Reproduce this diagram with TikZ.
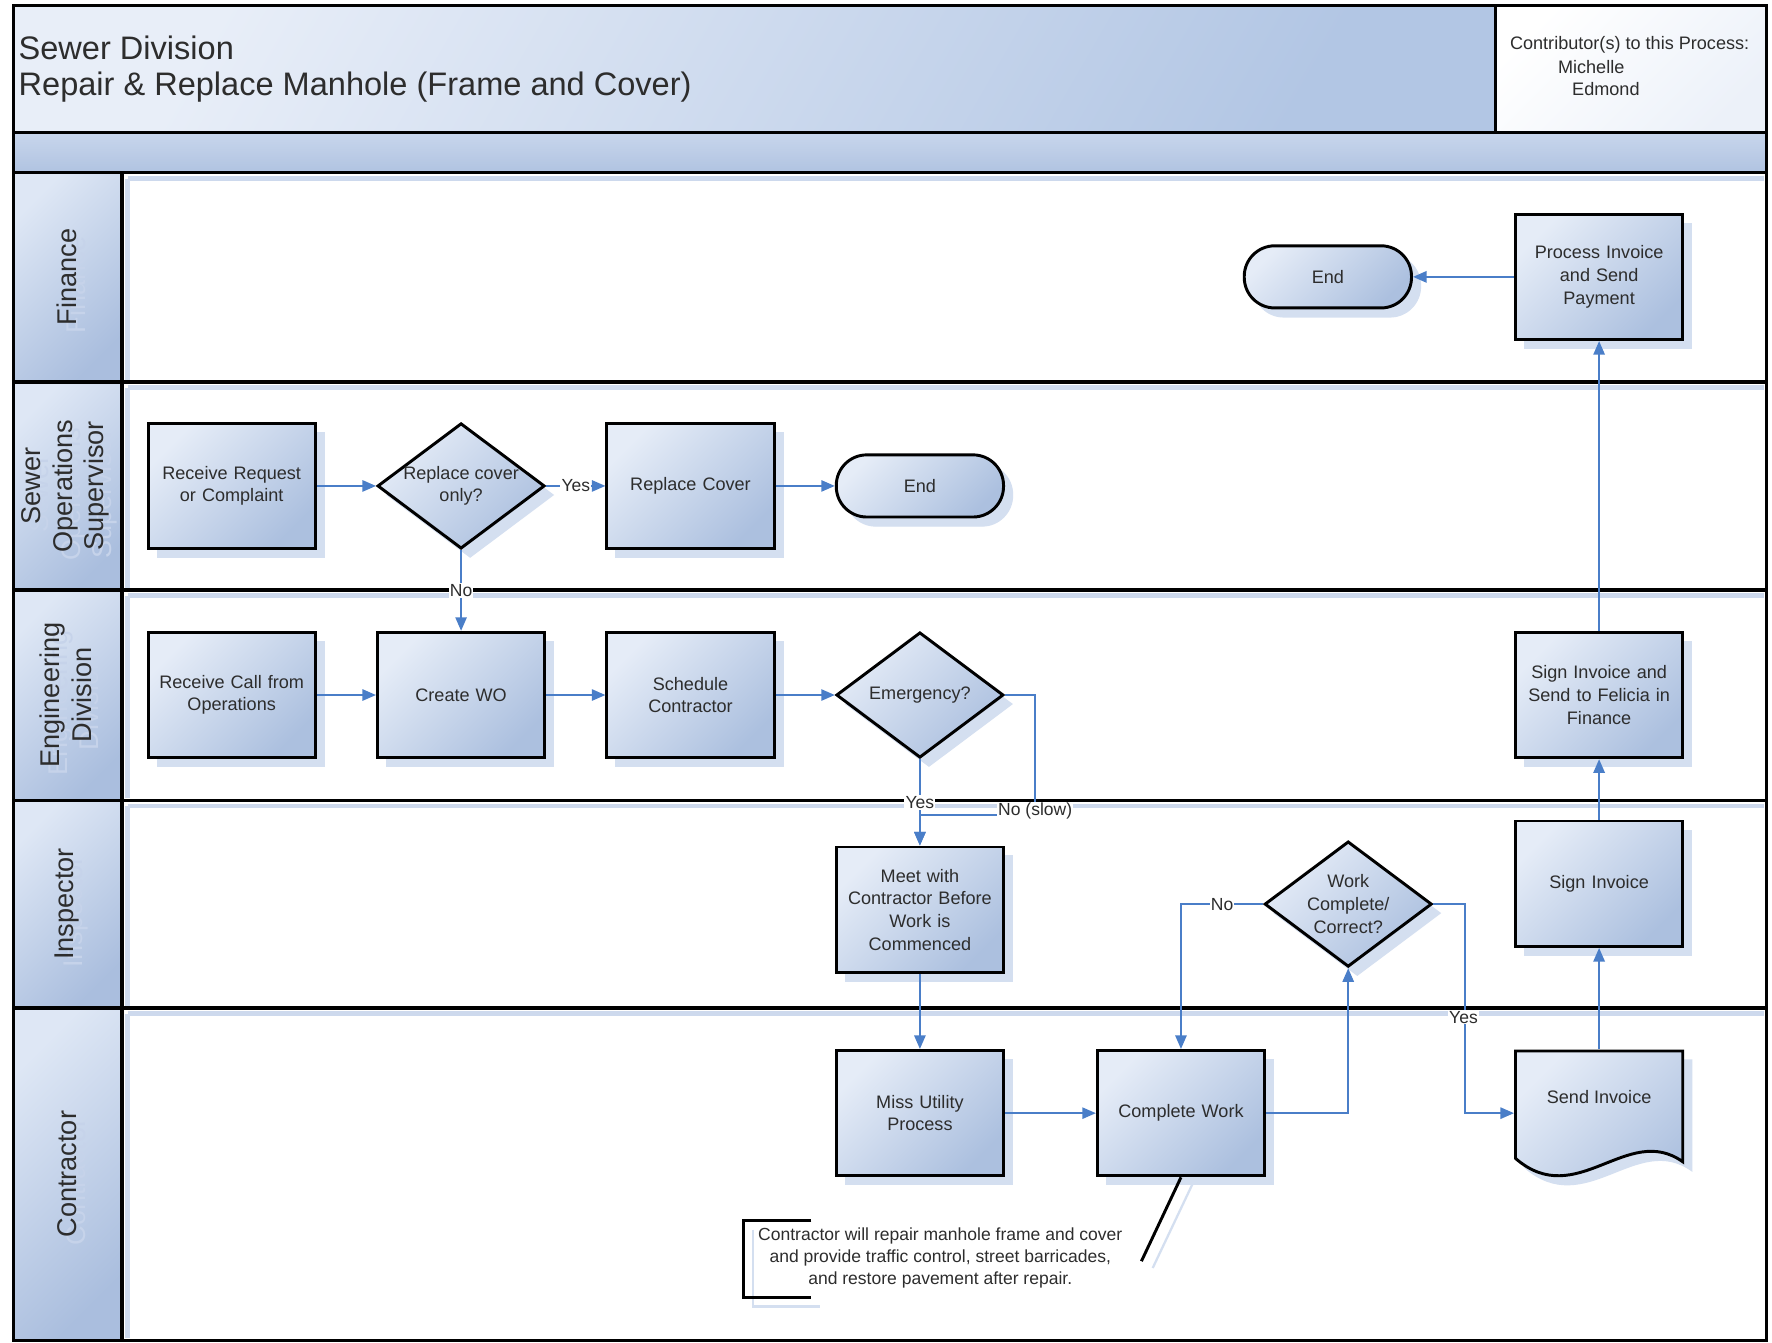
\documentclass[tikz,border=0pt]{standalone}
\usepackage{fontspec}
\setmainfont{Liberation Sans}
\usetikzlibrary{arrows.meta,shapes.geometric}
\definecolor{conn}{RGB}{74,126,200}
\definecolor{shad}{RGB}{212,223,240}
\definecolor{boxlight}{RGB}{229,236,247}
\definecolor{boxdark}{RGB}{172,192,223}
\definecolor{txt}{RGB}{45,45,45}
\definecolor{titlel}{RGB}{232,238,248}
\definecolor{titled}{RGB}{178,198,228}
\definecolor{bartop}{RGB}{200,214,236}
\definecolor{barbot}{RGB}{176,195,225}
\definecolor{hdl}{RGB}{222,231,245}
\definecolor{hdd}{RGB}{170,190,222}
\definecolor{contr}{RGB}{236,241,249}
\definecolor{laneshadc}{RGB}{205,217,237}
\definecolor{ghost}{RGB}{198,211,234}
\begin{document}
\begin{tikzpicture}[x=1pt,y=-1pt,
  shadowed/.style={preaction={fill=shad, draw=shad, line width=1pt, transform canvas={xshift=8pt,yshift=-8pt}}},
  grad/.style={top color=boxlight, bottom color=boxdark, shading angle=45},
  box/.style={draw=black, line width=2.6pt, grad, shadowed, minimum width=148pt, minimum height=111pt,
    inner sep=2pt, text width=144pt, align=center, font=\fontsize{16}{20}\selectfont, text=txt},
  dbox/.style={shape=diamond, draw=black, line width=2.6pt, grad, shadowed, minimum width=148pt,
    minimum height=111pt, inner sep=0pt},
  dtext/.style={align=center, font=\fontsize{16}{20}\selectfont, text=txt, inner sep=0pt},
  endbox/.style={draw=black, line width=2.6pt, grad, shadowed, rounded corners=27pt, minimum width=148pt,
    minimum height=55pt, font=\fontsize{16}{20}\selectfont, text=txt},
  frame/.style={line width=2.8pt, black},
  laneshad/.style={line width=4pt, laneshadc},
  lanelbl/.style={rotate=90, align=center, font=\fontsize{24}{28}\selectfont, text=txt},
  lanelblshad/.style={rotate=90, align=center, font=\fontsize{24}{28}\selectfont, text=ghost},
  conn/.style={draw=conn, line width=1.6pt, -{Triangle[length=12pt,width=10pt]}},
  lbl/.style={fill=white, inner sep=1pt, font=\fontsize{15.5}{18}\selectfont, text=txt},
  notetext/.style={align=center, font=\fontsize{15.5}{19.5}\selectfont, text=txt}
]
\useasboundingbox (0,0) rectangle (1568,1188);
\fill[white] (0,0) rectangle (1568,1188);

% title area
\shade[top color=titlel, bottom color=titled, shading angle=60] (12,5) rectangle (1323,117);
\shade[top color=white, bottom color=contr, shading angle=45] (1323,5) rectangle (1563,117);
\shade[top color=bartop, bottom color=barbot] (12,117) rectangle (1563,153);

% lanes
\foreach \t/\b in {153/338,338/522,522/708,708/892,892/1186} {
  \shade[top color=hdl, bottom color=hdd, shading angle=45] (12,\t) rectangle (108,\b);
  \draw[laneshad] (113,\t+5) -- (1561,\t+5);
  \draw[laneshad] (113,\t+5) -- (113,\b-2);
}

% frame lines
\draw[frame] (12,5) rectangle (1563,1186);
\draw[frame] (1323,5) -- (1323,117);
\draw[frame] (12,117) -- (1563,117);
\foreach \y in {153,338,522,708,892} \draw[frame] (12,\y) -- (1563,\y);
\draw[frame] (108,153) -- (108,1186);

% titles
\node[anchor=west, font=\fontsize{28.8}{35}\selectfont, text=txt] (t1) at (13,42) {Sewer Division};
\node[anchor=west, font=\fontsize{28.8}{35}\selectfont, text=txt] (t2) at (13,77) {Repair \& Replace Manhole (Frame and Cover)};
\node[font=\fontsize{16}{19}\selectfont, text=txt] (c1) at (1442,40) {Contributor(s) to this Process:};
\node[font=\fontsize{16}{19}\selectfont, text=txt] (c2) at (1408,59) {Michelle};
\node[font=\fontsize{16}{19}\selectfont, text=txt] (c3) at (1421,79) {Edmond};

% lane labels
\node[lanelblshad] (l1s) at (67,252) {Finance};
\node[lanelblshad] (l2s) at (65,437) {Sewer\\Operations\\Supervisor};
\node[lanelblshad] (l3s) at (65,622) {Engineering\\Division};
\node[lanelblshad] (l4s) at (67,807) {Inspector};
\node[lanelblshad] (l5s) at (67,1046) {Contractor};
\node[lanelbl] (l1) at (59,245) {Finance};
\node[lanelbl] (l2) at (58,430) {Sewer\\Operations\\Supervisor};
\node[lanelbl] (l3) at (58,615) {Engineering\\Division};
\node[lanelbl] (l4) at (59,800) {Inspector};
\node[lanelbl] (l5) at (59,1039) {Contractor};

% Finance
\node[endbox] (end1) at (1175,245) {End};
\node[box] (pinv) at (1415,245) {Process Invoice\\and Send\\Payment};

% Sewer operations
\node[box] (rreq) at (205,430) {Receive Request\\or Complaint};
\node[dbox, label={[dtext]center:{Replace cover\\only?}}] (dcov) at (408,430) {};
\node[box] (rcov) at (611,430) {Replace Cover};
\node[endbox] (end2) at (814,430) {End};

% Engineering
\node[box] (rcall) at (205,615) {Receive Call from\\Operations};
\node[box] (cwo) at (408,615) {Create WO};
\node[box] (sched) at (611,615) {Schedule\\Contractor};
\node[dbox, label={[dtext]center:{Emergency?}}] (emer) at (814,615) {};
\node[box] (signsend) at (1415,615) {Sign Invoice and\\Send to Felicia in\\Finance};

% Inspector
\node[box] (meet) at (814,805) {Meet with\\Contractor Before\\Work is\\Commenced};
\node[dbox, label={[dtext]center:{Work\\Complete/\\Correct?}}] (wcc) at (1193,800) {};
\node[box] (sign) at (1415,782) {Sign Invoice};

% Contractor
\node[box] (miss) at (814,985) {Miss Utility\\Process};
\node[box] (cwork) at (1045,985) {Complete Work};
\path[draw=black, line width=2.6pt, grad, shadowed]
  (1341,930) -- (1489,930) -- (1489,1028) .. controls (1440,993) and (1395,1072) .. (1341,1025) -- cycle;
\node[minimum width=148pt, minimum height=111pt, inner sep=0pt, outer sep=1.3pt] (sendinv) at (1415,985) {};
\node[dtext] (sendinvt) at (1415,971) {Send Invoice};

% annotation
\draw[line width=2pt, shad] (666,1088) -- (666,1156) -- (726,1156);
\draw[line width=2.6pt, black] (718,1080) -- (658,1080) -- (658,1148) -- (718,1148);
\node[notetext] (note) at (832,1113) {Contractor will repair manhole frame and cover\\and provide traffic control, street barricades,\\and restore pavement after repair.};
\coordinate (noteend) at (1010,1116);
\draw[line width=2pt, shad] (1056,1046) -- (1020,1122);
\draw[line width=2.6pt, black] (cwork.south) -- (noteend);

% connectors
\draw[conn] (pinv.west) -- (end1.east);
\draw[conn] (rreq.east) -- (dcov.west);
\draw[conn] (dcov.east) -- node[lbl] (ly1) {Yes} (rcov.west);
\draw[conn] (rcov.east) -- (end2.west);
\draw[conn] (dcov.south) -- node[lbl] (ln1) {No} (cwo.north);
\draw[conn] (rcall.east) -- (cwo.west);
\draw[conn] (cwo.east) -- (sched.west);
\draw[conn] (sched.east) -- (emer.west);
\draw[conn] (emer.east) -| (916,721) -| (meet.north);
\draw[conn] (emer.south) -- node[lbl] (ly2) {Yes} (meet.north);
\node[lbl] (lns) at (916,718) {No (slow)};
\draw[conn] (meet.south) -- (miss.north);
\draw[conn] (miss.east) -- (cwork.west);
\draw[conn] (cwork.east) -| (wcc.south);
\draw[conn] (wcc.west) -| node[lbl, pos=0.25] (ln2) {No} (cwork.north);
\draw[conn] (wcc.east) -- (1296,800) -- (1296,985) -- (sendinv.west);
\node[lbl] (ly3) at (1295,900) {Yes};
\draw[conn] (sendinv.north) -- (sign.south);
\draw[conn] (sign.north) -- (signsend.south);
\draw[conn] (signsend.north) -- (pinv.south);
\end{tikzpicture}
\end{document}
